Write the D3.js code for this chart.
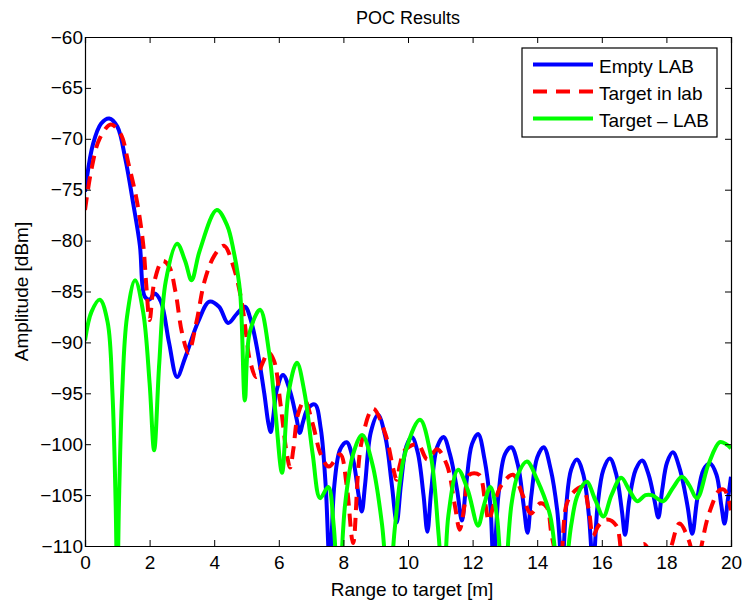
<!DOCTYPE html>
<html>
<head>
<meta charset="utf-8">
<script src="https://cdn.jsdelivr.net/npm/d3@7"></script>
<style>
  body { margin: 0; background: #fff; }
  text { font-family: "Liberation Sans", Arial, sans-serif; fill: #000; }
</style>
</head>
<body>
<div id="chart"></div>
<script>
// Values: [range (m), amplitude (dBm)]
const emptyLab = [
  [0, -75.2], [0.25, -70.5], [0.5, -68.5], [0.75, -68.0], [1.0, -68.8], [1.25, -72],
  [1.5, -76.5], [1.7, -80.5], [1.85, -85.5], [2.0, -85.8], [2.15, -85.2], [2.35, -86],
  [2.6, -90], [2.85, -93.4], [3.1, -91.5], [3.5, -88], [3.85, -86], [4.15, -86.5],
  [4.43, -88.1], [4.7, -87.2], [4.95, -86.5], [5.15, -88], [5.35, -91], [5.55, -95],
  [5.68, -98], [5.75, -98.8], [5.82, -97.5], [5.95, -94.5], [6.13, -93.2], [6.35, -94.8],
  [6.55, -97.5], [6.65, -98.9], [6.75, -97.8], [6.9, -96.5], [7.12, -96.1], [7.3, -98.5],
  [7.45, -104], [7.58, -112], [7.72, -104], [7.9, -100.5], [8.1, -99.8], [8.3, -101.5],
  [8.47, -105], [8.57, -106.6], [8.67, -104], [8.85, -98.8], [9.07, -97.1], [9.3, -99.3],
  [9.5, -104], [9.65, -107.7], [9.78, -104], [9.95, -100.2], [10.12, -99.3], [10.3, -100.8],
  [10.48, -105], [10.6, -108.6], [10.72, -104.5], [10.9, -100.3], [11.1, -99.3], [11.3, -101],
  [11.52, -104.5], [11.67, -107.5], [11.8, -104], [11.98, -100], [12.17, -99.0], [12.37, -101.5],
  [12.55, -106], [12.65, -112], [12.8, -105], [13.0, -101], [13.2, -100.3], [13.4, -102],
  [13.58, -106], [13.7, -108.7], [13.82, -105], [14.0, -101.3], [14.2, -100.3], [14.42, -102.5],
  [14.62, -106.5], [14.77, -112], [14.9, -106], [15.05, -102.5], [15.23, -101.5], [15.43, -103],
  [15.6, -107], [15.73, -112], [15.87, -106], [16.05, -102.5], [16.25, -101.4], [16.45, -103],
  [16.62, -106.5], [16.72, -108.9], [16.85, -105.5], [17.05, -102.5], [17.25, -101.6], [17.45, -103],
  [17.63, -105.5], [17.75, -107.2], [17.87, -104.5], [18.02, -101.8], [18.2, -100.8], [18.42, -102.5],
  [18.65, -106], [18.8, -108.8], [18.95, -105.5], [19.15, -102.5], [19.35, -101.9], [19.55, -103],
  [19.7, -106], [19.8, -107.8], [19.9, -105.5], [20, -103.2]
];

const targetInLab = [
  [0, -77], [0.2, -73], [0.45, -70], [0.8, -68.6], [1.1, -69.5], [1.35, -72.5],
  [1.6, -76], [1.8, -80.3], [1.9, -84.5], [2.0, -87.8], [2.15, -84], [2.4, -82],
  [2.6, -82.5], [2.8, -85], [3.0, -89], [3.2, -91], [3.45, -88], [3.7, -84],
  [4.0, -81.5], [4.3, -80.5], [4.6, -82.6], [4.85, -86], [5.0, -89.5], [5.1, -91.7],
  [5.3, -93.4], [5.5, -92], [5.67, -91], [5.85, -91.8], [6.05, -96], [6.25, -101],
  [6.35, -102.3], [6.45, -100.5], [6.6, -97], [6.8, -95.7], [7.05, -98], [7.3, -101],
  [7.55, -102.2], [7.9, -101], [8.1, -104], [8.3, -109.7], [8.55, -100], [8.92, -96.5],
  [9.3, -99], [9.55, -102.5], [9.65, -103.5], [9.75, -102], [9.9, -100.6], [10.3, -100],
  [10.6, -101.5], [10.9, -100.5], [11.2, -102], [11.45, -106], [11.6, -108.4], [11.75, -106],
  [11.9, -103], [12.2, -103], [12.4, -106], [12.5, -107.5], [12.65, -106], [12.9, -104],
  [13.25, -103], [13.55, -105], [13.8, -106.8], [14.1, -105.8], [14.3, -106.2], [14.45, -109],
  [14.7, -112], [14.9, -106], [15.1, -104.8], [15.4, -104.2], [15.6, -106.5], [15.73, -109],
  [15.9, -108], [16.15, -107.4], [16.45, -108], [16.7, -112], [17.0, -111], [17.3, -109.8],
  [17.6, -111], [18.0, -111], [18.4, -107.8], [18.7, -109.5], [18.9, -112], [19.3, -107],
  [19.65, -104.5], [19.8, -104.5], [20, -106.5]
];

const targetMinusLab = [
  [0, -89.8], [0.2, -87], [0.46, -85.8], [0.7, -88], [0.85, -95], [0.95, -106],
  [1.0, -115], [1.05, -106], [1.15, -95], [1.3, -87.5], [1.55, -83.9], [1.8, -87],
  [2.0, -94], [2.14, -100.6], [2.3, -92], [2.5, -84], [2.85, -80.3], [3.1, -82],
  [3.3, -83.9], [3.55, -81], [4.08, -77.0], [4.4, -78.5], [4.6, -81], [4.8, -85],
  [4.95, -95.7], [5.1, -89], [5.42, -86.8], [5.7, -91], [5.9, -97], [6.1, -102.8],
  [6.3, -95], [6.56, -92], [6.8, -95], [7.05, -101], [7.28, -105.3], [7.53, -104.2],
  [7.7, -108], [7.85, -115], [8.05, -106], [8.3, -101], [8.58, -99.1], [8.9, -102],
  [9.2, -108], [9.4, -115], [9.6, -108], [9.9, -101], [10.37, -97.6], [10.7, -101],
  [10.95, -109], [11.1, -115], [11.25, -107], [11.55, -102.5], [11.85, -104.5], [12.17, -108],
  [12.35, -106], [12.55, -104.2], [12.75, -107], [12.95, -115], [13.2, -106], [13.4, -103],
  [13.68, -101.7], [14.0, -103.5], [14.4, -107], [14.75, -115], [15.05, -108], [15.25, -105],
  [15.53, -103.7], [15.8, -105.5], [16.05, -107.1], [16.3, -105], [16.6, -103.3], [16.85, -104.5],
  [17.1, -105.6], [17.35, -105], [17.55, -105], [17.9, -105.6], [18.2, -104.3], [18.48, -103.2],
  [18.7, -104], [18.95, -105.3], [19.3, -102], [19.65, -99.8], [19.85, -100], [20, -100.4]
];

const xTicks = [0, 2, 4, 6, 8, 10, 12, 14, 16, 18, 20];
const yTicks = [-110, -105, -100, -95, -90, -85, -80, -75, -70, -65, -60];
const seriesNames = ["Empty LAB", "Target in lab", "Target \u2013 LAB"];
const seriesColors = ["#0000ff", "#ff0000", "#00ff00"];

const width = 743, height = 603;
const margin = { top: 37, right: 12, bottom: 57, left: 85 };
const innerW = width - margin.left - margin.right;
const innerH = height - margin.top - margin.bottom;

const svg = d3.select("#chart").append("svg")
  .attr("width", width)
  .attr("height", height);

svg.append("rect").attr("width", width).attr("height", height).attr("fill", "#fff");

const g = svg.append("g")
  .attr("transform", `translate(${margin.left},${margin.top})`);

const x = d3.scaleLinear().domain([0, 20]).range([0, innerW]);
const y = d3.scaleLinear().domain([-110, -60]).range([innerH, 0]);

g.append("clipPath").attr("id", "plot-clip")
  .append("rect").attr("width", innerW).attr("height", innerH);

const line = d3.line()
  .x(d => x(d[0]))
  .y(d => y(d[1]))
  .curve(d3.curveCatmullRom.alpha(0.5));

const series = [emptyLab, targetInLab, targetMinusLab];
const plot = g.append("g").attr("clip-path", "url(#plot-clip)");

series.forEach((s, i) => {
  plot.append("path")
    .datum(s)
    .attr("fill", "none")
    .attr("stroke", seriesColors[i])
    .attr("stroke-width", 4)
    .attr("stroke-linejoin", "round")
    .attr("stroke-dasharray", i === 1 ? "13,8" : null)
    .attr("d", line);
});

// axes, MATLAB style: ticks inside the box on all four sides
const fmt = d => d < 0 ? "\u2212" + Math.abs(d) : String(d);

const xAxis = g.append("g")
  .attr("transform", `translate(0,${innerH})`)
  .call(d3.axisBottom(x).tickValues(xTicks).tickSize(-6).tickPadding(10).tickFormat(fmt));
const yAxis = g.append("g")
  .call(d3.axisLeft(y).tickValues(yTicks).tickSize(-6).tickPadding(2).tickFormat(fmt));
const xTop = g.append("g")
  .call(d3.axisTop(x).tickValues(xTicks).tickSize(-6).tickFormat(""));
const yRight = g.append("g")
  .attr("transform", `translate(${innerW},0)`)
  .call(d3.axisRight(y).tickValues(yTicks).tickSize(-6).tickFormat(""));

[xAxis, yAxis, xTop, yRight].forEach(a => {
  a.select(".domain").attr("stroke", "#000").attr("stroke-width", 1.2);
  a.selectAll(".tick line").attr("stroke", "#000");
  a.selectAll("text").attr("font-size", 19).attr("font-family", "Liberation Sans, Arial, sans-serif");
});

// titles
svg.append("text")
  .attr("x", margin.left + innerW / 2)
  .attr("y", 24)
  .attr("text-anchor", "middle")
  .attr("font-size", 18)
  .text("POC Results");

svg.append("text")
  .attr("x", margin.left + innerW / 2 + 4)
  .attr("y", 596)
  .attr("text-anchor", "middle")
  .attr("font-size", 19)
  .text("Range to target [m]");

svg.append("text")
  .attr("transform", `translate(28,${margin.top + innerH / 2}) rotate(-90)`)
  .attr("text-anchor", "middle")
  .attr("font-size", 19)
  .text("Amplitude [dBm]");

// legend
const legend = svg.append("g").attr("transform", "translate(522,48)");
legend.append("rect")
  .attr("width", 195).attr("height", 89)
  .attr("fill", "#fff").attr("stroke", "#000").attr("stroke-width", 1.2);

seriesNames.forEach((name, i) => {
  const ly = 16.5 + i * 27;
  legend.append("line")
    .attr("x1", 11).attr("x2", 71)
    .attr("y1", ly).attr("y2", ly)
    .attr("stroke", seriesColors[i])
    .attr("stroke-width", 4)
    .attr("stroke-dasharray", i === 1 ? "14,9" : null);
  legend.append("text")
    .attr("x", 77)
    .attr("y", ly + 1.5)
    .attr("dy", "0.35em")
    .attr("font-size", 19)
    .text(name);
});
</script>
</body>
</html>
